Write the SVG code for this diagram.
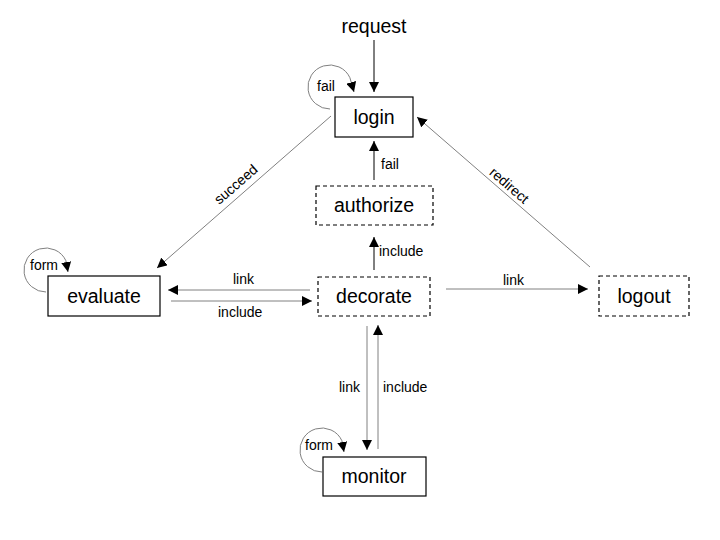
<svg xmlns="http://www.w3.org/2000/svg" width="720" height="540" viewBox="0 0 720 540">
  <style>
    .node rect { fill: #fff; stroke: #000; stroke-width: 1.2; }
    .node.dashed rect { stroke-dasharray: 4 3; }
    .node text { font-family: "Liberation Sans", Arial, sans-serif; font-size: 19.5px; fill: #000; text-anchor: middle; }
    .edge { fill: none; stroke: #808080; stroke-width: 1; }
    .edge.dark { stroke: #000; }
    .lbl { font-family: "Liberation Sans", Arial, sans-serif; font-size: 14px; fill: #000; }
    .title { font-family: "Liberation Sans", Arial, sans-serif; font-size: 19.5px; fill: #000; text-anchor: middle; }
  </style>
  <defs>
    <marker id="arrow" viewBox="0 0 10 10" refX="10" refY="5" markerWidth="10" markerHeight="10" markerUnits="userSpaceOnUse" orient="auto">
      <path d="M0,0 L10,5 L0,10 Z" fill="#000"/>
    </marker>
  </defs>

  <rect width="720" height="540" fill="#fff"/>

  <g id="connectors">
    <!-- entry -->
    <line class="edge dark" x1="374" y1="40" x2="374" y2="92" marker-end="url(#arrow)"/>
    <!-- login self-loop -->
    <path class="edge" d="M330,109 A22,22 0 1 1 349.9,77.7 L354,92" marker-end="url(#arrow)"/>
    <text class="lbl" x="317" y="91">fail</text>
    <!-- authorize -> login -->
    <line class="edge dark" x1="374" y1="180" x2="374" y2="141" marker-end="url(#arrow)"/>
    <text class="lbl" x="381" y="169">fail</text>
    <!-- decorate -> authorize -->
    <line class="edge dark" x1="374" y1="270" x2="374" y2="237" marker-end="url(#arrow)"/>
    <text class="lbl" x="379" y="256">include</text>
    <!-- login -> evaluate -->
    <line class="edge" x1="331" y1="116" x2="157" y2="268" marker-end="url(#arrow)"/>
    <text class="lbl" text-anchor="middle" transform="translate(239,188) rotate(-41)">succeed</text>
    <!-- logout -> login -->
    <line class="edge" x1="590" y1="267" x2="417" y2="117" marker-end="url(#arrow)"/>
    <text class="lbl" text-anchor="middle" transform="translate(506,189) rotate(41)">redirect</text>
    <!-- evaluate self-loop -->
    <path class="edge" d="M46,292 A22,22 0 1 1 65.9,260.7 L68,272" marker-end="url(#arrow)"/>
    <text class="lbl" x="30" y="270">form</text>
    <!-- decorate -> evaluate -->
    <line class="edge" x1="310" y1="290" x2="168" y2="290" marker-end="url(#arrow)"/>
    <text class="lbl" x="233" y="284">link</text>
    <!-- evaluate -> decorate -->
    <line class="edge" x1="171" y1="301" x2="312" y2="301" marker-end="url(#arrow)"/>
    <text class="lbl" x="218" y="317">include</text>
    <!-- decorate -> logout -->
    <line class="edge" x1="446" y1="289" x2="588" y2="289" marker-end="url(#arrow)"/>
    <text class="lbl" x="503" y="285">link</text>
    <!-- decorate -> monitor -->
    <line class="edge" x1="367" y1="326" x2="367" y2="450" marker-end="url(#arrow)"/>
    <text class="lbl" x="360" y="392" text-anchor="end">link</text>
    <!-- monitor -> decorate -->
    <line class="edge" x1="378" y1="449" x2="378" y2="325" marker-end="url(#arrow)"/>
    <text class="lbl" x="383" y="392">include</text>
    <!-- monitor self-loop -->
    <path class="edge" d="M322,472 A22,22 0 1 1 341.9,440.7 L344,452" marker-end="url(#arrow)"/>
    <text class="lbl" x="305" y="450">form</text>
  </g>

  <text class="title" x="374" y="33">request</text>

  <g id="login" class="node">
    <rect x="335" y="97" width="78" height="40"/>
    <text x="374" y="124">login</text>
  </g>
  <g id="authorize" class="node dashed">
    <rect x="316" y="186" width="117" height="39"/>
    <text x="374" y="212">authorize</text>
  </g>
  <g id="evaluate" class="node">
    <rect x="48" y="276" width="112" height="40"/>
    <text x="104" y="303">evaluate</text>
  </g>
  <g id="decorate" class="node dashed">
    <rect x="318" y="277" width="112" height="39"/>
    <text x="374" y="303">decorate</text>
  </g>
  <g id="logout" class="node dashed">
    <rect x="599" y="276" width="90" height="40"/>
    <text x="644" y="303">logout</text>
  </g>
  <g id="monitor" class="node">
    <rect x="323" y="457" width="103" height="39"/>
    <text x="374" y="483">monitor</text>
  </g>
</svg>
